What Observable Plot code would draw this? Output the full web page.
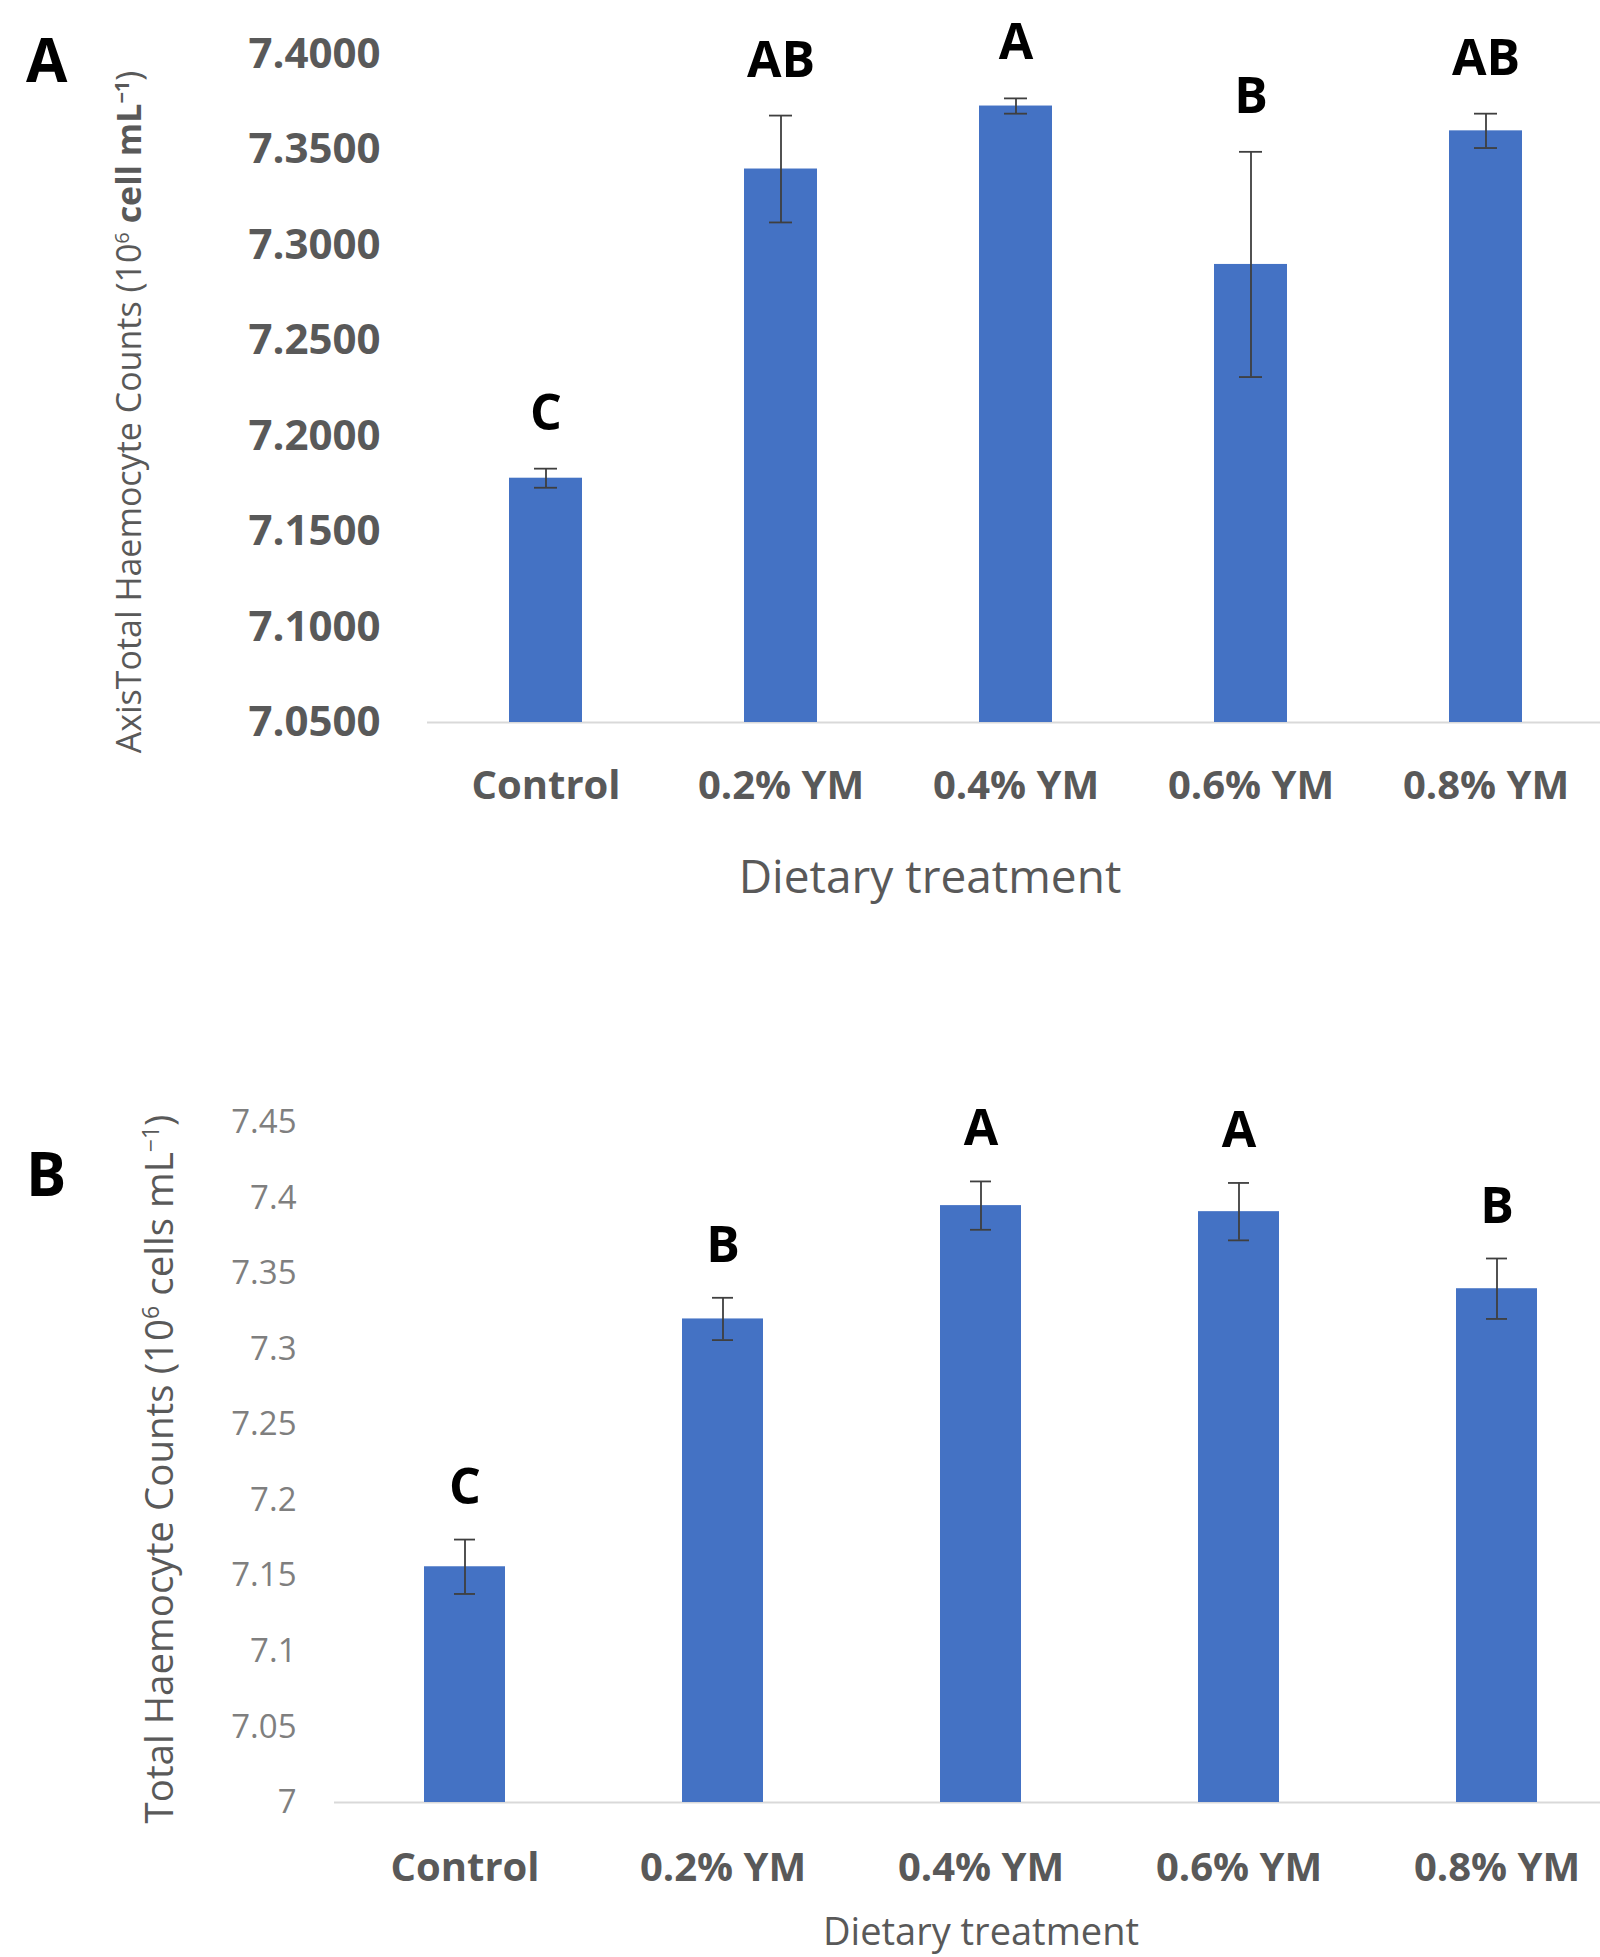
<!DOCTYPE html>
<html><head><meta charset="utf-8">
<script src="https://cdn.jsdelivr.net/npm/d3@7"></script>
<script src="https://cdn.jsdelivr.net/npm/@observablehq/plot@0.6"></script>
<style>
body{margin:0;background:#fff;}
#page{position:relative;width:1600px;height:1957px;background:#fff;font-family:"Open Sans",sans-serif;overflow:hidden;}
#page svg{position:absolute;left:0;overflow:visible;}
</style></head><body><div id="page"></div>
<script>
// ---- data ----
const categories = ["Control", "0.2% YM", "0.4% YM", "0.6% YM", "0.8% YM"];

const meansA   = [7.178, 7.340, 7.373, 7.290, 7.360];
const errA     = [0.005, 0.028, 0.004, 0.059, 0.009];
const lettersA = ["C", "AB", "A", "B", "AB"];
const ticksA   = [7.05, 7.10, 7.15, 7.20, 7.25, 7.30, 7.35, 7.40];

const meansB   = [7.156, 7.320, 7.395, 7.391, 7.340];
const errB     = [0.018, 0.014, 0.016, 0.019, 0.020];
const lettersB = ["C", "B", "A", "A", "B"];
const ticksB   = [7, 7.05, 7.10, 7.15, 7.20, 7.25, 7.30, 7.35, 7.40, 7.45];

const xTitle = "Dietary treatment";

// ---- builder ----
function makePanel(o) {
  const data = categories.map((c, i) => ({cat: c, mean: o.means[i], err: o.errs[i], letter: o.letters[i]}));
  const base = o.ticks[0];
  const errStyle = {stroke: "#3f3f3f", strokeWidth: 1.8};
  return Plot.plot({
    width: 1600,
    height: o.height,
    marginTop: o.marginTop,
    marginBottom: o.marginBottom,
    marginLeft: o.marginLeft,
    marginRight: 0,
    style: {fontFamily: '"Open Sans", sans-serif', background: "white", overflow: "visible"},
    x: {domain: categories, range: o.xRange, paddingInner: o.pad, paddingOuter: o.pad / 2, align: 0.5},
    y: {domain: [o.ticks[0], o.ticks[o.ticks.length - 1]]},
    marks: [
      Plot.ruleY([base], {stroke: "#d9d9d9", strokeWidth: 2}),
      Plot.barY(data, {x: "cat", y1: base, y2: "mean", fill: "#4472C4"}),
      Plot.ruleX(data, {x: "cat", y1: d => d.mean - d.err, y2: d => d.mean + d.err, ...errStyle}),
      Plot.tickY(data, {x: "cat", y: d => d.mean + d.err, insetLeft: o.capInset, insetRight: o.capInset, ...errStyle}),
      Plot.tickY(data, {x: "cat", y: d => d.mean - d.err, insetLeft: o.capInset, insetRight: o.capInset, ...errStyle}),
      Plot.text(data, {x: "cat", y: d => d.mean + d.err, text: "letter", dy: -o.letterOffset,
        fontSize: 50, fontWeight: 700, fill: "#000", lineAnchor: "middle"}),
      Plot.axisY({ticks: o.ticks, tickFormat: o.tickFormat, tickSize: 0, tickPadding: o.yPad,
        fontSize: o.yFont, fontWeight: o.yWeight, fill: o.yColor, color: o.yColor, label: null}),
      Plot.axisX({tickSize: 0, tickPadding: o.xPad, fontSize: 40, fontWeight: 700,
        fill: "#595959", color: "#595959", label: null})
    ]
  });
}

const page = document.getElementById("page");

// Panel A
const svgA = makePanel({
  means: meansA, errs: errA, letters: lettersA, ticks: ticksA,
  tickFormat: d3.format(".4f"),
  height: 960, marginTop: 54, marginBottom: 238, marginLeft: 427,
  xRange: [427, 1603], pad: 0.69, capInset: 25, letterOffset: 55,
  yPad: 47, yFont: 42, yWeight: 700, yColor: "#595959", xPad: 48
});
svgA.style.top = "0px";
page.appendChild(svgA);

// Panel B
const svgB = makePanel({
  means: meansB, errs: errB, letters: lettersB, ticks: ticksB,
  tickFormat: d3.format("~g"),
  height: 997, marginTop: 162, marginBottom: 155, marginLeft: 334,
  xRange: [334, 1627], pad: 0.685, capInset: 30, letterOffset: 52,
  yPad: 38, yFont: 33, yWeight: 400, yColor: "#7f7f7f", xPad: 50
});
svgB.style.top = "960px";
page.appendChild(svgB);

// ---- titles & panel letters ----
const sA = d3.select(svgA), sB = d3.select(svgB);

sA.append("text").attr("x", 26).attr("y", 82).attr("text-anchor", "start").attr("font-size", 60)
  .attr("font-weight", 700).attr("fill", "#000").text("A");
sB.append("text").attr("x", 26).attr("y", 236).attr("text-anchor", "start").attr("font-size", 60)
  .attr("font-weight", 700).attr("fill", "#000").text("B");

// y title A
{
  const t = sA.append("text").attr("transform", "translate(129,412) rotate(-90)")
    .attr("text-anchor", "middle").attr("dy", "0.35em").attr("font-size", 34).attr("fill", "#595959");
  t.append("tspan").text("AxisTotal Haemocyte Counts (10");
  t.append("tspan").attr("font-size", 20).attr("dy", -12).text("6");
  t.append("tspan").attr("dy", 12).attr("font-weight", 700).text(" cell mL");
  t.append("tspan").attr("font-size", 20).attr("dy", -12).attr("font-weight", 700).text("−1");
  t.append("tspan").attr("dy", 12).text(")");
}
// y title B
{
  const t = sB.append("text").attr("transform", "translate(160,509) rotate(-90)")
    .attr("text-anchor", "middle").attr("dy", "0.35em").attr("font-size", 38.5).attr("fill", "#595959");
  t.append("tspan").text("Total Haemocyte Counts (10");
  t.append("tspan").attr("font-size", 23).attr("dy", -14).text("6");
  t.append("tspan").attr("dy", 14).text(" cells mL");
  t.append("tspan").attr("font-size", 23).attr("dy", -14).text("−1");
  t.append("tspan").attr("dy", 14).text(")");
}
// x titles
sA.append("text").attr("x", 930).attr("y", 877).attr("dy", "0.35em").attr("text-anchor", "middle")
  .attr("font-size", 46).attr("fill", "#595959").text(xTitle);
sB.append("text").attr("x", 981).attr("y", 972).attr("dy", "0.35em").attr("text-anchor", "middle")
  .attr("font-size", 38).attr("fill", "#595959").text(xTitle);
</script></body></html>
